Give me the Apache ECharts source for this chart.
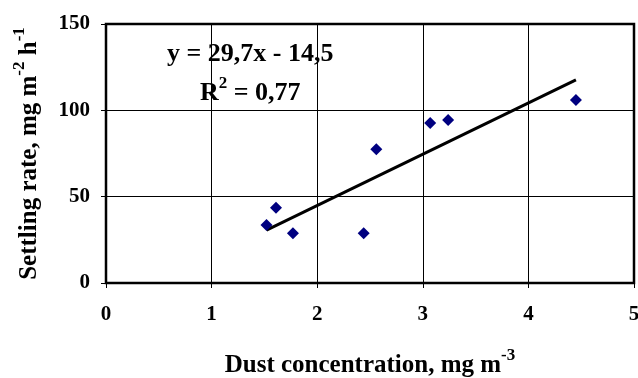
<!DOCTYPE html>
<html>
<head>
<meta charset="utf-8">
<script src="https://cdn.jsdelivr.net/npm/echarts@6/dist/echarts.min.js"></script>
<style>
  html, body { margin: 0; padding: 0; background: #fff; }
  #chart { width: 638px; height: 378px; }
</style>
</head>
<body>
<div id="chart"></div>
<script>
// dust concentration (mg m-3) vs settling rate (mg m-2 h-1)
var dustConc = [1.52, 1.61, 1.77, 2.44, 2.56, 3.07, 3.24, 4.45];
var settlingRate = [33.6, 43.6, 28.8, 28.8, 77.4, 92.6, 94.4, 106];
var slope = 29.7;
var intercept = -14.5;
var eqText = 'y = 29,7x - 14,5';
var r2Text = ' = 0,77';

var FONT = '"Liberation Serif", "Times New Roman", serif';

var points = [];
for (var i = 0; i < dustConc.length; i++) {
	points.push([dustConc[i], settlingRate[i]]);
}
// trend line across the data range
var xMin = Math.min.apply(null, dustConc);
var xMax = Math.max.apply(null, dustConc);
var trend = [[xMin, slope * xMin + intercept], [xMax, slope * xMax + intercept]];

function supRich(size) {
	return {
		b: { fontFamily: FONT, fontWeight: 'bold', fontSize: size, color: '#000', verticalAlign: 'bottom' },
		sup: { fontFamily: FONT, fontWeight: 'bold', fontSize: 17, color: '#000', verticalAlign: 'bottom', padding: [0, 0, 14, 0] }
	};
}

var myChart = echarts.init(document.getElementById('chart'), null, { renderer: 'canvas' });

var option = {
	backgroundColor: '#fff',
	animation: false,
	grid: {
		left: 106, right: 4, top: 24, bottom: 95,
		outerBoundsMode: 'none',
		containLabel: false,
		show: true,
		borderColor: '#000',
		borderWidth: 2.5
	},
	xAxis: {
		type: 'value',
		min: 0, max: 5, interval: 1,
		axisLine: { show: false },
		axisTick: { show: true, length: 5, lineStyle: { color: '#000', width: 1 } },
		splitLine: { show: true, lineStyle: { color: '#000', width: 1 } },
		axisLabel: { color: '#000', fontFamily: FONT, fontWeight: 'bold', fontSize: 21, margin: 21 },
		name: '{b|Dust concentration, mg m}{sup|-3}',
		nameLocation: 'middle',
		nameGap: 64,
		nameTextStyle: { rich: supRich(25) }
	},
	yAxis: {
		type: 'value',
		min: 0, max: 150, interval: 50,
		axisLine: { show: false },
		axisTick: { show: true, length: 5, lineStyle: { color: '#000', width: 1 } },
		splitLine: { show: true, lineStyle: { color: '#000', width: 1 } },
		axisLabel: { color: '#000', fontFamily: FONT, fontWeight: 'bold', fontSize: 21, margin: 16 },
		name: '{b|Settling rate, mg m}{sup|-2}{b| h}{sup|-1}',
		nameLocation: 'middle',
		nameGap: 64,
		nameTextStyle: { rich: supRich(25) }
	},
	graphic: [
		{
			type: 'text', left: 167, top: 41, z: 100,
			style: { text: eqText, fill: '#000', font: 'bold 26px ' + FONT }
		},
		{
			type: 'text', left: 200, top: 75, z: 100,
			style: {
				text: '{b|R}{sup|2}{b|' + r2Text + '}',
				rich: supRich(26)
			}
		}
	],
	series: [
		{
			type: 'scatter',
			data: points,
			symbol: 'diamond',
			symbolSize: 12,
			itemStyle: { color: '#000080', opacity: 1 },
			z: 3
		},
		{
			type: 'line',
			data: trend,
			symbol: 'none',
			lineStyle: { color: '#000', width: 3 },
			z: 2
		}
	]
};

myChart.setOption(option);
</script>
</body>
</html>
